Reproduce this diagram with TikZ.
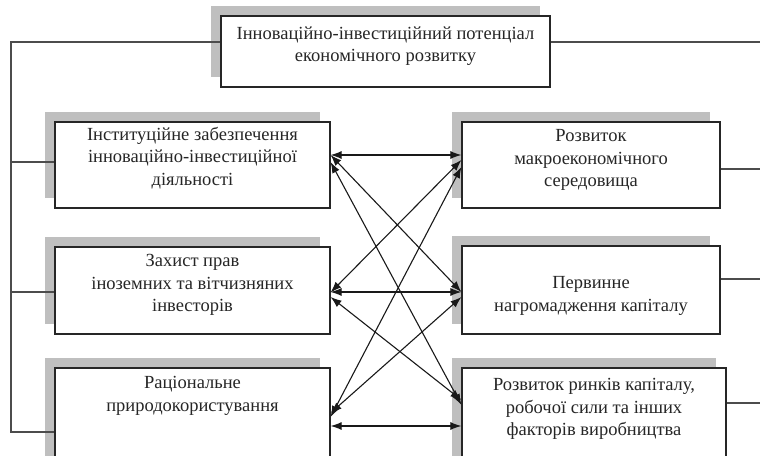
\documentclass[tikz,border=0pt]{standalone}
\usepackage{fontspec}
\setmainfont{Liberation Serif}
\usetikzlibrary{arrows.meta,shadows}
\begin{document}
\begin{tikzpicture}[x=1pt,y=-1pt,
  every node/.style={font=\fontsize{18.5}{22.5}\selectfont, text=black!85},
  box/.style={draw=black!85, line width=1.2pt, fill=white, inner sep=0pt,
    general shadow={fill=black!25, shadow xshift=-10pt, shadow yshift=10pt}},
  caption/.style={align=center, inner sep=0pt},
  bus/.style={draw=black!70, line width=1.2pt},
  link/.style={draw=black!90, line width=1.1pt, {Latex[length=11pt,width=8pt]}-{Latex[length=11pt,width=8pt]}}]
\useasboundingbox (0,0) rectangle (760,455);
\clip (0,0) rectangle (760,455);

% top block
\node[box, minimum width=329pt, minimum height=71pt] (T) at (385.5,51.5) {};
\node[caption] (Tt) at (385.5,46) {Інноваційно-інвестиційний потенціал\\економічного розвитку};

% left column
\node[box, minimum width=275pt, minimum height=86pt] (L1) at (192.5,165) {};
\node[caption] (L1t) at (192.5,158) {Інституційне забезпечення\\інноваційно-інвестиційної\\діяльності};
\node[box, minimum width=275pt, minimum height=87pt] (L2) at (192.5,290.5) {};
\node[caption] (L2t) at (192.5,285) {Захист прав\\іноземних та вітчизняних\\інвесторів};
\node[box, minimum width=275pt, minimum height=132pt] (L3) at (192.5,434) {};
\node[caption] (L3t) at (192.5,396) {Раціональне\\природокористування};

% right column
\node[box, minimum width=258pt, minimum height=86pt] (R1) at (591,165) {};
\node[caption] (R1t) at (591,160) {Розвиток\\макроекономічного\\середовища};
\node[box, minimum width=258pt, minimum height=88pt] (R2) at (591,290) {};
\node[caption] (R2t) at (591,296) {Первинне\\нагромадження капіталу};
\node[box, minimum width=264pt, minimum height=132pt] (R3) at (594,434) {};
\node[caption] (R3t) at (594,409) {Розвиток ринків капіталу,\\робочої сили та інших\\факторів виробництва};

% bus lines
\coordinate (busTop) at (11,42);
\coordinate (busBot) at (11,432);
\coordinate (endT) at (760,42);
\coordinate (end1) at (760,169);
\coordinate (end2) at (760,279);
\coordinate (end3) at (760,403);
\draw[bus] ([yshift=9.5pt]T.west) -- (busTop) -- (busBot) -- ([yshift=2pt]L3.west);
\draw[bus] (busTop |- {0,162}) -- ([yshift=3pt]L1.west);
\draw[bus] (busTop |- {0,292}) -- ([yshift=-1.5pt]L2.west);
\draw[bus] ([yshift=9.5pt]T.east) -- (endT);
\draw[bus] ([yshift=-4pt]R1.east) -- (end1);
\draw[bus] ([yshift=11pt]R2.east) -- (end2);
\draw[bus] ([yshift=31pt]R3.east) -- (end3);

% links between the two columns
\draw[link] ([yshift=10pt]L1.east) -- ([yshift=10pt]R1.west);
\draw[link] ([yshift=10pt]L1.east) -- ([yshift=-2pt]R2.west);
\draw[link] ([yshift=3pt]L1.east) -- ([yshift=29pt]R3.west);
\draw[link] ([yshift=-2pt]L2.east) -- ([yshift=5pt]R1.west);
\draw[link] ([yshift=-1.5pt]L2.east) -- ([yshift=-2pt]R2.west);
\draw[link] ([yshift=-6.5pt]L2.east) -- ([yshift=34pt]R3.west);
\draw[link] ([yshift=17pt]L3.east) -- ([yshift=-2pt]R1.west);
\draw[link] ([yshift=21pt]L3.east) -- ([yshift=-7pt]R2.west);
\draw[link] ([yshift=8pt]L3.east) -- ([yshift=8pt]R3.west);
\end{tikzpicture}
\end{document}
